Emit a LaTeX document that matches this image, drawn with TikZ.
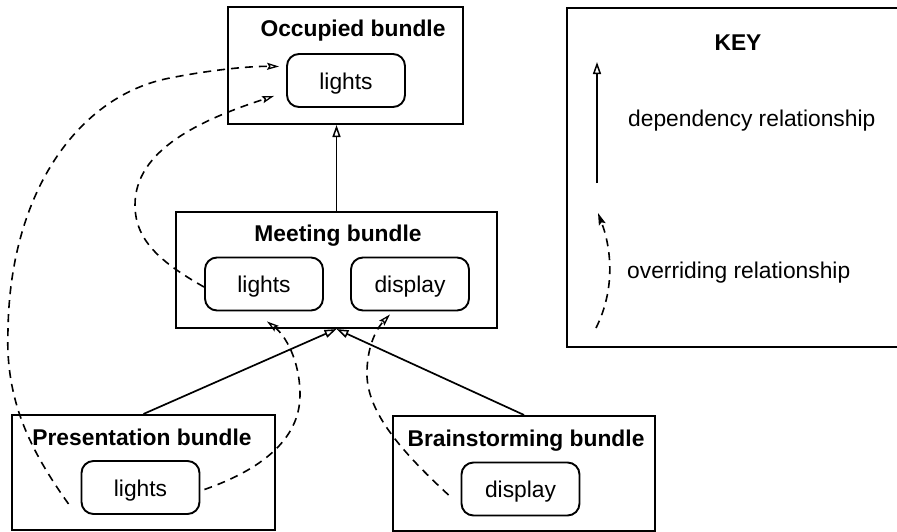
\documentclass[tikz,border=0pt]{standalone}
\usepackage{fontspec}
\setmainfont{Liberation Sans}
\usetikzlibrary{arrows.meta,calc}
\tikzset{
  txt/.style={font=\fontsize{22.8}{27}\selectfont, inner sep=0pt},
  ttl/.style={font=\fontsize{22.8}{27}\selectfont\bfseries, inner sep=0pt, anchor=base},
  bundle/.style={draw, line width=2.1pt, inner sep=0pt},
  item/.style={draw, line width=1.9pt, rounded corners=12pt, minimum width=118pt, minimum height=53pt,
    font=\fontsize{22.8}{27}\selectfont, text height=17pt, text depth=0pt, inner sep=0pt},
  depend/.style={line width=1.7pt, -{Triangle[open,length=12pt,width=8pt,line width=1.5pt]}},
  override/.style={line width=1.6pt, dash pattern=on 8pt off 6pt, -{Stealth[open,length=12pt,width=7pt,inset=2pt,line width=1.3pt]}}
}
\begin{document}
\begin{tikzpicture}[x=1pt,y=-1pt]
\useasboundingbox (0,0) rectangle (897,531);
\clip (0,0) rectangle (897,531);
% bundles
\node[bundle, minimum width=235pt, minimum height=117pt] (occ) at (345.5,65.5) {};
\node[bundle, minimum width=321pt, minimum height=116pt] (meet) at (336.5,270) {};
\node[bundle, minimum width=263pt, minimum height=115pt] (pres) at (143.5,472.5) {};
\node[bundle, minimum width=262pt, minimum height=115pt] (brain) at (524,473.5) {};
% titles
\node[ttl] (occt) at (353,36) {Occupied bundle};
\node[ttl] (meett) at (338,241) {Meeting bundle};
\node[ttl] (prest) at (142,445) {Presentation bundle};
\node[ttl] (braint) at (526,446) {Brainstorming bundle};
% items
\node[item] (olights) at (346,80.5) {lights};
\node[item] (mlights) at (264,284) {lights};
\node[item] (mdisplay) at (410,284) {display};
\node[item] (plights) at (140.5,487.5) {lights};
\node[item] (bdisplay) at (520.5,489) {display};
% dependency arrows
\draw[depend] (meet.north) -- (meet.north |- occ.south);
\draw[depend] (pres.north) -- (meet.south);
\draw[depend] (brain.north) -- (meet.south);
% overriding arrows
\draw[override] ($(plights.south west)+(-12,-11)$) .. controls (30,450) and (5,400) .. (8,330)
  .. controls (10,190) and (80,95) .. (170,78)
  .. controls (210,70) and (250,66) .. ($(olights.west)+(-7,-14)$);
\draw[override] ($(mlights.west)+(0,3)$) .. controls (160,262) and (135,240) .. (135,205)
  .. controls (135,150) and (200,120) .. ($(olights.south west)+(-12,-12)$);
\draw[override] ($(plights.east)+(4,2)$) .. controls (260,470) and (300,440) .. (300,395)
  .. controls (300,360) and (285,335) .. ($(mlights.south)+(3,10)$);
\draw[override] ($(bdisplay.west)+(-12,6)$) .. controls (400,450) and (365,410) .. (367,370)
  .. controls (368,340) and (380,325) .. ($(mdisplay.south)+(-20,3)$);
% key
\node[bundle, minimum width=340pt, minimum height=339pt] (key) at (737,177.5) {};
\node[ttl] (keyt) at (738,50) {KEY};
\coordinate (kd1) at (597,183);
\coordinate (kd2) at (597,62);
\draw[depend] (kd1) -- (kd2);
\node[txt, anchor=base west] (kdt) at (628,126) {dependency relationship};
\coordinate (ko1) at (596,328);
\coordinate (ko2) at (598,213);
\draw[override, -{Stealth[length=12pt,width=7pt,inset=2pt]}] (ko1) .. controls (615,290) and (612,250) .. (ko2);
\node[txt, anchor=base west] (kot) at (627,278) {overriding relationship};
\end{tikzpicture}
\end{document}
